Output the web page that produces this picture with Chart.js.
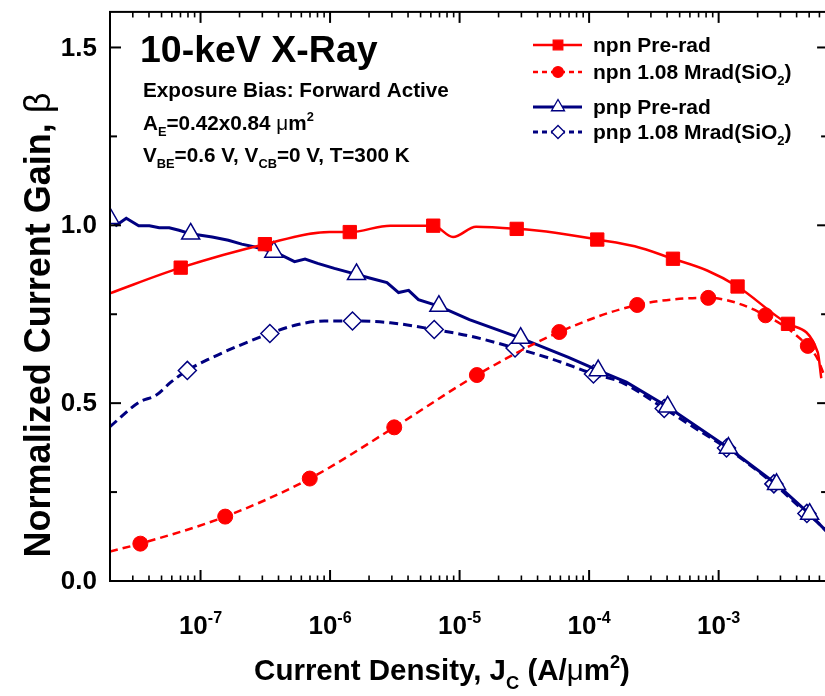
<!DOCTYPE html>
<html>
<head>
<meta charset="utf-8">
<title>Normalized current gain vs current density</title>
<script src="https://cdn.jsdelivr.net/npm/chart.js"></script>
<style>
  html, body { margin: 0; padding: 0; background: #fff; overflow: hidden; }
  #wrap { width: 840px; height: 696px; }
</style>
</head>
<body>
<div id="wrap"><canvas id="gain" width="840" height="696"></canvas></div>
<script>
// collector current density J_C (A/um^2) and normalized gain beta, per device
const npnPreJ    = [2.0e-8, 7.03e-8, 3.14e-7, 9.9e-7, 1.42e-6, 2.92e-6, 6.26e-6, 8.9e-6, 1.34e-5, 2.76e-5, 5.47e-5, 1.156e-4, 2.25e-4, 4.44e-4, 8.15e-4, 1.40e-3, 3.43e-3, 5.82e-3, 6.2e-3];
const npnPreBeta = [0.809, 0.881, 0.947, 0.981, 0.981, 0.999, 0.999, 0.967, 0.996, 0.990, 0.979, 0.960, 0.941, 0.906, 0.873, 0.828, 0.723, 0.643, 0.57];
const npnPreMarks = [1, 2, 4, 6, 9, 11, 13, 15, 16];

const npnRadJ    = [2.0e-8, 3.43e-8, 1.55e-7, 6.97e-7, 3.13e-6, 1.36e-5, 5.88e-5, 2.35e-4, 8.31e-4, 2.30e-3, 4.88e-3, 5.82e-3, 6.5e-3];
const npnRadBeta = [0.083, 0.105, 0.181, 0.288, 0.432, 0.579, 0.700, 0.776, 0.796, 0.747, 0.661, 0.624, 0.58];
const npnRadMarks = [1, 2, 3, 4, 5, 6, 7, 8, 9, 10];

const pnpPreJ    = [2.0e-8, 2.24e-8, 2.67e-8, 3.33e-8, 4.03e-8, 4.80e-8, 5.73e-8, 6.82e-8, 8.39e-8, 1.23e-7, 1.64e-7, 2.08e-7, 2.63e-7, 3.68e-7,
                    4.21e-7, 5.32e-7, 6.41e-7, 8.02e-7, 1.08e-6, 1.60e-6, 2.05e-6, 2.75e-6, 3.38e-6, 4.04e-6, 4.81e-6, 6.92e-6, 1.19e-5, 2.96e-5,
                    6.93e-5, 1.175e-4, 1.94e-4, 4.04e-4, 1.19e-3, 2.80e-3, 5.04e-3, 6.0e-3, 7.0e-3];
const pnpPreBeta = [1.020, 1.000, 1.020, 0.999, 0.999, 0.993, 0.993, 0.986, 0.976, 0.967, 0.958, 0.947, 0.939, 0.925,
                    0.916, 0.898, 0.905, 0.893, 0.879, 0.862, 0.851, 0.839, 0.811, 0.817, 0.791, 0.773, 0.735, 0.683,
                    0.629, 0.592, 0.559, 0.490, 0.374, 0.272, 0.188, 0.160, 0.135];
const pnpPreMarks = [0, 8, 13, 19, 25, 27, 29, 31, 32, 33, 34];

const pnpRadJ    = [2.0e-8, 3.37e-8, 4.53e-8, 5.90e-8, 7.91e-8, 1.16e-7, 1.96e-7, 3.43e-7, 5.65e-7, 9.04e-7, 1.49e-6, 2.92e-6, 6.37e-6,
                    1.19e-5, 2.68e-5, 5.18e-5, 1.08e-4, 1.77e-4, 3.80e-4, 7.26e-4, 1.15e-3, 2.67e-3, 4.80e-3, 6.0e-3, 7.0e-3];
const pnpRadBeta = [0.434, 0.503, 0.522, 0.559, 0.592, 0.624, 0.661, 0.696, 0.721, 0.731, 0.731, 0.726, 0.707,
                    0.689, 0.655, 0.624, 0.582, 0.559, 0.485, 0.420, 0.374, 0.273, 0.190, 0.160, 0.135];
const pnpRadMarks = [4, 7, 10, 12, 14, 16, 18, 20, 21, 22];

// axis ranges and ticks
const xMin = 2e-8, xMax = 7e-3;
const yMin = 0, yMax = 1.6;
const xMajorTicks = [1e-7, 1e-6, 1e-5, 1e-4, 1e-3];
const xTickExps = ['-7', '-6', '-5', '-4', '-3'];
const xMinorSteps = [2, 3, 4, 5, 6, 7, 8, 9];
const yMajorTicks = [0, 0.5, 1.0, 1.5];
const yTickLabels = ['0.0', '0.5', '1.0', '1.5'];
const yMinorTicks = [0.25, 0.75, 1.25];

const FONT = '"Liberation Sans", Arial, sans-serif';
const RED = '#ff0000';
const NAVY = '#000080';

function toPoints(xs, ys) {
  return xs.map((x, i) => ({ x: x, y: ys[i] }));
}
function markRadius(n, marks, r) {
  const out = new Array(n).fill(0);
  marks.forEach(i => { out[i] = r; });
  return out;
}

const series = [
  { label: 'npn Pre-rad', color: RED, fill: RED, style: 'rect', r: 9.4, dash: [], width: 2.5,
    J: npnPreJ, beta: npnPreBeta, marks: npnPreMarks, curve: 'monotone' },
  { label: 'npn 1.08 Mrad(SiO2)', color: RED, fill: RED, style: 'circle', r: 7.5, dash: [8, 5], width: 2.5,
    J: npnRadJ, beta: npnRadBeta, marks: npnRadMarks, curve: 'monotone' },
  { label: 'pnp Pre-rad', color: NAVY, fill: '#ffffff', style: 'triangle', r: 10.4, dash: [], width: 3,
    J: pnpPreJ, beta: pnpPreBeta, marks: pnpPreMarks, curve: 'linear' },
  { label: 'pnp 1.08 Mrad(SiO2)', color: NAVY, fill: '#ffffff', style: 'rectRot', r: 9, dash: [9, 5], width: 3,
    J: pnpRadJ, beta: pnpRadBeta, marks: pnpRadMarks, curve: 'monotone' }
];

// text runs: [text, kind] with kind '' (bold), 'sub', 'sup', 'sym' (greek, regular weight)
function drawRuns(ctx, x, y, runs, size, dry) {
  let cx = x;
  for (const [txt, kind] of runs) {
    let fs = size, dy = 0, weight = 'bold';
    if (kind === 'sub') { fs = size * 0.62; dy = size * 0.3; }
    if (kind === 'sup') { fs = size * 0.62; dy = -size * 0.42; }
    if (kind === 'sym') { weight = 'normal'; }
    ctx.font = weight + ' ' + fs + 'px ' + FONT;
    if (!dry) ctx.fillText(txt, cx, y + dy);
    cx += ctx.measureText(txt).width;
  }
  return cx - x;
}

function drawMarker(ctx, style, x, y, r, fill, stroke, lw) {
  ctx.save();
  ctx.setLineDash([]);
  ctx.beginPath();
  if (style === 'rect') {
    const s = r * Math.SQRT1_2;
    ctx.rect(x - s, y - s, 2 * s, 2 * s);
  } else if (style === 'circle') {
    ctx.arc(x, y, r, 0, Math.PI * 2);
  } else if (style === 'triangle') {
    for (let k = 0; k < 3; k++) {
      const a = k * 2 * Math.PI / 3;
      const px = x + Math.sin(a) * r, py = y - Math.cos(a) * r;
      if (k === 0) ctx.moveTo(px, py); else ctx.lineTo(px, py);
    }
    ctx.closePath();
  } else {
    ctx.moveTo(x - r, y); ctx.lineTo(x, y - r); ctx.lineTo(x + r, y); ctx.lineTo(x, y + r);
    ctx.closePath();
  }
  ctx.fillStyle = fill; ctx.fill();
  ctx.lineWidth = lw; ctx.strokeStyle = stroke; ctx.stroke();
  ctx.restore();
}

const legendRuns = [
  [['npn Pre-rad', '']],
  [['npn 1.08 Mrad(SiO', ''], ['2', 'sub'], [')', '']],
  [['pnp Pre-rad', '']],
  [['pnp 1.08 Mrad(SiO', ''], ['2', 'sub'], [')', '']]
];
const legendRowY = [45, 72, 107, 132];

const framePlugin = {
  id: 'frame',
  afterDatasetsDraw(chart) {
    const ctx = chart.ctx;
    const xs = chart.scales.x, ys = chart.scales.y;
    const { left, right, top, bottom } = chart.chartArea;
    ctx.save();
    ctx.strokeStyle = '#000';
    ctx.fillStyle = '#000';
    ctx.setLineDash([]);

    const seg = (x1, y1, x2, y2, w) => {
      ctx.lineWidth = w;
      ctx.beginPath(); ctx.moveTo(x1, y1); ctx.lineTo(x2, y2); ctx.stroke();
    };

    // x ticks, inward on bottom and top
    for (let e = -8; e <= -3; e++) {
      const base = Math.pow(10, e);
      const px = xs.getPixelForValue(base);
      if (base >= xMin && base <= xMax) {
        seg(px, bottom, px, bottom - 11, 2);
        seg(px, top, px, top + 11, 2);
      }
      xMinorSteps.forEach(m => {
        const v = m * base;
        if (v <= xMin || v >= xMax) return;
        const p = xs.getPixelForValue(v);
        seg(p, bottom, p, bottom - 5.5, 1.6);
        seg(p, top, p, top + 5.5, 1.6);
      });
    }
    // y ticks, inward on left and right
    yMajorTicks.forEach(v => {
      const py = ys.getPixelForValue(v);
      seg(left, py, left + 11, py, 2);
      seg(right, py, right - 11, py, 2);
    });
    yMinorTicks.forEach(v => {
      const py = ys.getPixelForValue(v);
      seg(left, py, left + 7, py, 2);
      seg(right, py, right - 7, py, 2);
    });

    // frame
    ctx.lineWidth = 2;
    ctx.strokeRect(left, top, right - left, bottom - top);

    // y tick labels
    ctx.font = 'bold 26px ' + FONT;
    ctx.textAlign = 'right';
    ctx.textBaseline = 'middle';
    yMajorTicks.forEach((v, i) => {
      ctx.fillText(yTickLabels[i], left - 13, ys.getPixelForValue(v) + 1);
    });

    // x tick labels, 10 with exponent
    ctx.textAlign = 'left';
    ctx.textBaseline = 'alphabetic';
    xMajorTicks.forEach((v, i) => {
      const runs = [['10', ''], [xTickExps[i], 'sup']];
      const w = drawRuns(ctx, 0, 0, runs, 26, true);
      drawRuns(ctx, xs.getPixelForValue(v) - w / 2, 634, runs, 26);
    });

    // axis titles
    const xTitle = [['Current Density, J', ''], ['C', 'sub'], [' (A/', ''], ['\u03bc', 'sym'], ['m', ''], ['2', 'sup'], [')', '']];
    const xw = drawRuns(ctx, 0, 0, xTitle, 29.5, true);
    drawRuns(ctx, 442 - xw / 2, 680, xTitle, 29.5);

    const yTitle = [['Normalized Current Gain, ', ''], ['\u03b2', 'sym']];
    const yw = drawRuns(ctx, 0, 0, yTitle, 36, true);
    ctx.save();
    ctx.translate(50, 325);
    ctx.rotate(-Math.PI / 2);
    drawRuns(ctx, -yw / 2, 0, yTitle, 36);
    ctx.restore();

    // annotation block
    ctx.font = 'bold 37.5px ' + FONT;
    ctx.fillText('10-keV X-Ray', 140, 62);
    drawRuns(ctx, 143, 97, [['Exposure Bias: Forward Active', '']], 20.7);
    drawRuns(ctx, 143, 130, [['A', ''], ['E', 'sub'], ['=0.42x0.84 ', ''], ['\u03bc', 'sym'], ['m', ''], ['2', 'sup']], 20.7);
    drawRuns(ctx, 143, 162, [['V', ''], ['BE', 'sub'], ['=0.6 V, V', ''], ['CB', 'sub'], ['=0 V, T=300 K', '']], 20.7);

    // legend
    series.forEach((s, i) => {
      const cy = legendRowY[i];
      ctx.strokeStyle = s.color;
      ctx.lineWidth = s.width;
      ctx.setLineDash(s.dash.length ? [5, 4] : []);
      ctx.beginPath(); ctx.moveTo(533, cy); ctx.lineTo(582, cy); ctx.stroke();
      ctx.setLineDash([]);
      drawMarker(ctx, s.style, 558, cy, s.r * 0.72, s.fill, s.color, 1.3);
      ctx.fillStyle = '#000';
      drawRuns(ctx, 593, cy + 7, legendRuns[i], 21);
    });

    ctx.restore();
  }
};

new Chart(document.getElementById('gain'), {
  type: 'line',
  data: {
    datasets: series.map(s => ({
      label: s.label,
      data: toPoints(s.J, s.beta),
      borderColor: s.color,
      borderWidth: s.width,
      borderDash: s.dash,
      cubicInterpolationMode: s.curve === 'monotone' ? 'monotone' : 'default',
      tension: 0,
      pointStyle: s.style,
      pointRadius: markRadius(s.J.length, s.marks, s.r),
      pointBackgroundColor: s.fill,
      pointBorderColor: s.color,
      pointBorderWidth: s.fill === '#ffffff' ? 1.5 : 1,
      fill: false,
      clip: 0
    }))
  },
  options: {
    responsive: false,
    animation: false,
    events: [],
    devicePixelRatio: 1,
    layout: { padding: { left: 110, top: 6, right: 6, bottom: 115 } },
    scales: {
      x: { type: 'logarithmic', min: xMin, max: xMax, display: false },
      y: { type: 'linear', min: yMin, max: yMax, display: false }
    },
    plugins: { legend: { display: false }, tooltip: { enabled: false } }
  },
  plugins: [framePlugin]
});
</script>
</body>
</html>
